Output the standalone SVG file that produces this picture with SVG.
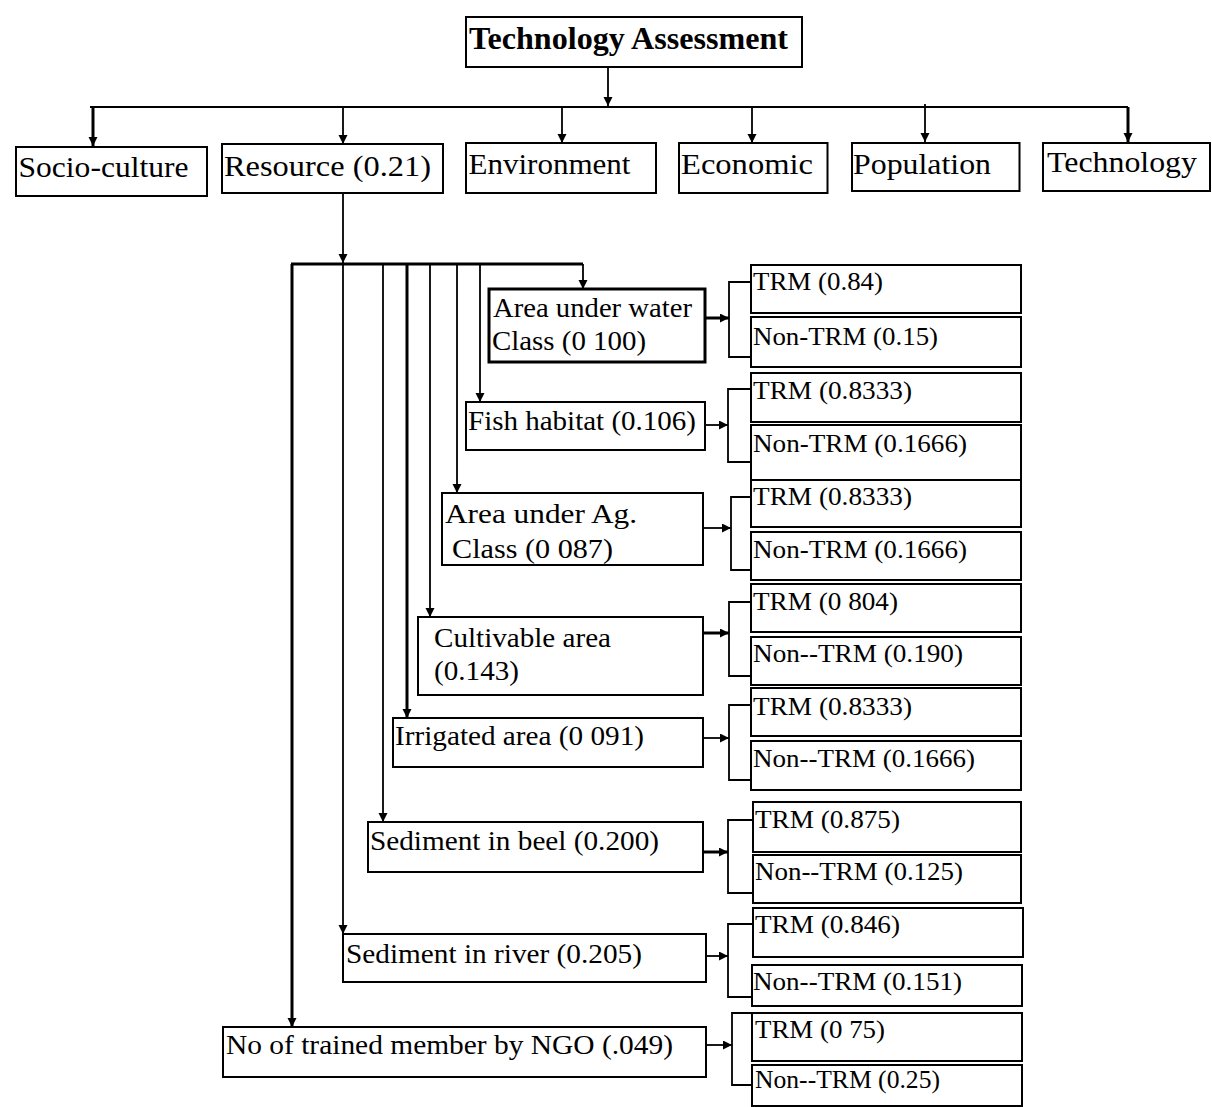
<svg xmlns="http://www.w3.org/2000/svg" width="1212" height="1107" viewBox="0 0 1212 1107">
<defs>
<marker id="ah" markerUnits="userSpaceOnUse" markerWidth="10" markerHeight="10" refX="9" refY="4.5" orient="auto"><path d="M0,0 L9,4.5 L0,9 z" fill="#000"/></marker>
<style>
rect{fill:#fff;stroke:#000;stroke-width:2}
.c path{fill:none;stroke:#000;stroke-width:1.8}
.c .a{marker-end:url(#ah)}
.c .k{stroke-width:3}
text{font-family:"Liberation Serif","Times New Roman",serif;fill:#000}
.t{font-size:32px;font-weight:bold}
.l1{font-size:29px}
.l2{font-size:27px}
.lf{font-size:26px}
</style>
</defs>
<rect x="0" y="0" width="1212" height="1107" style="fill:#fff;stroke:none"/>
<g class="c" id="connectors">
<path class="a" d="M608,67 V106"/>
<path d="M90,107 H1128"/>
<path class="a k" d="M93,107 V146"/>
<path class="a" d="M343,107 V144"/>
<path class="a" d="M562,107 V143"/>
<path class="a" d="M752,107 V143"/>
<path class="a" d="M925,104 V142"/>
<path class="a k" d="M1128,107 V142"/>
<path class="a" d="M343,193 V263"/>
<path class="k" d="M291,264 H583"/>
<path class="a" d="M583,264 V289"/>
<path class="a" d="M480,264 V402"/>
<path class="a" d="M457,264 V493"/>
<path class="a" d="M430,264 V617"/>
<path class="a k" d="M407,264 V718"/>
<path class="a" d="M383,264 V822"/>
<path class="a" d="M343,264 V934"/>
<path class="a k" d="M292,264 V1027"/>
<path class="a k" d="M705,318 H729"/>
<path class="a" d="M705,425 H728"/>
<path class="a" d="M703,528 H731"/>
<path class="a k" d="M703,633 H729"/>
<path class="a" d="M703,738 H729"/>
<path class="a k" d="M703,852 H728"/>
<path class="a" d="M706,956 H728"/>
<path class="a" d="M706,1045 H732"/>
<path d="M751,282 H729 V357 H751"/>
<path d="M751,389 H728 V462 H751"/>
<path d="M751,497 H731 V570 H751"/>
<path d="M751,602 H729 V676 H751"/>
<path d="M751,705 H729 V780 H751"/>
<path d="M753,820 H728 V893 H753"/>
<path d="M753,924 H728 V997 H753"/>
<path d="M753,1013 H732 V1085 H753"/>
</g>
<g id="n-title"><rect x="466" y="17" width="336" height="50"/><text class="t" x="469" y="49" textLength="319" lengthAdjust="spacingAndGlyphs">Technology Assessment</text></g>
<g id="n-socio"><rect x="16" y="147" width="191" height="49"/><text class="l1" x="18.5" y="177" textLength="170" lengthAdjust="spacingAndGlyphs">Socio-culture</text></g>
<g id="n-resource"><rect x="222" y="144" width="221" height="49"/><text class="l1" x="224" y="176" textLength="207" lengthAdjust="spacingAndGlyphs">Resource (0.21)</text></g>
<g id="n-environment"><rect x="466" y="143" width="190" height="50"/><text class="l1" x="468.5" y="174" textLength="162" lengthAdjust="spacingAndGlyphs">Environment</text></g>
<g id="n-economic"><rect x="679" y="143" width="148.5" height="50"/><text class="l1" x="681" y="174" textLength="132" lengthAdjust="spacingAndGlyphs">Economic</text></g>
<g id="n-population"><rect x="852" y="143" width="167.5" height="48"/><text class="l1" x="853" y="174" textLength="138" lengthAdjust="spacingAndGlyphs">Population</text></g>
<g id="n-technology"><rect x="1043" y="143" width="167" height="48"/><text class="l1" x="1047" y="172" textLength="150" lengthAdjust="spacingAndGlyphs">Technology</text></g>
<g id="n-water"><rect x="489" y="289" width="216" height="73" style="stroke-width:3"/><text class="l2" x="493" y="317" textLength="199" lengthAdjust="spacingAndGlyphs">Area under water</text><text class="l2" x="492" y="350" textLength="154" lengthAdjust="spacingAndGlyphs">Class (0 100)</text></g>
<g id="n-fish"><rect x="466" y="402" width="239" height="48"/><text class="l2" x="468" y="430" textLength="228" lengthAdjust="spacingAndGlyphs">Fish habitat (0.106)</text></g>
<g id="n-ag"><rect x="442" y="493" width="261" height="72"/><text class="l2" x="445" y="523" textLength="192" lengthAdjust="spacingAndGlyphs">Area under Ag.</text><text class="l2" x="452" y="558" textLength="161" lengthAdjust="spacingAndGlyphs">Class (0 087)</text></g>
<g id="n-cultivable"><rect x="418" y="617" width="285" height="78"/><text class="l2" x="434" y="647" textLength="177" lengthAdjust="spacingAndGlyphs">Cultivable area</text><text class="l2" x="434" y="680" textLength="85" lengthAdjust="spacingAndGlyphs">(0.143)</text></g>
<g id="n-irrigated"><rect x="393" y="718" width="310" height="49"/><text class="l2" x="395" y="745" textLength="249" lengthAdjust="spacingAndGlyphs">Irrigated area (0 091)</text></g>
<g id="n-beel"><rect x="368" y="822" width="335" height="50"/><text class="l2" x="370" y="850" textLength="289" lengthAdjust="spacingAndGlyphs">Sediment in beel (0.200)</text></g>
<g id="n-river"><rect x="343" y="934" width="363" height="48"/><text class="l2" x="346" y="963" textLength="296" lengthAdjust="spacingAndGlyphs">Sediment in river (0.205)</text></g>
<g id="n-ngo"><rect x="223" y="1027" width="483" height="50"/><text class="l2" x="226" y="1054" textLength="447" lengthAdjust="spacingAndGlyphs">No of trained member by NGO (.049)</text></g>
<g id="n-w-trm"><rect x="751" y="265" width="270" height="48"/><text class="lf" x="753" y="290" textLength="130" lengthAdjust="spacingAndGlyphs">TRM (0.84)</text></g>
<g id="n-w-non"><rect x="751" y="317" width="270" height="50"/><text class="lf" x="753" y="345" textLength="185" lengthAdjust="spacingAndGlyphs">Non-TRM (0.15)</text></g>
<g id="n-f-trm"><rect x="751" y="373" width="270" height="49"/><text class="lf" x="753" y="399" textLength="159" lengthAdjust="spacingAndGlyphs">TRM (0.8333)</text></g>
<g id="n-f-non"><rect x="751" y="425" width="270" height="55"/><text class="lf" x="753" y="452" textLength="214" lengthAdjust="spacingAndGlyphs">Non-TRM (0.1666)</text></g>
<g id="n-a-trm"><rect x="751" y="480" width="270" height="47"/><text class="lf" x="753" y="505" textLength="159" lengthAdjust="spacingAndGlyphs">TRM (0.8333)</text></g>
<g id="n-a-non"><rect x="751" y="532" width="270" height="48"/><text class="lf" x="753" y="558" textLength="214" lengthAdjust="spacingAndGlyphs">Non-TRM (0.1666)</text></g>
<g id="n-c-trm"><rect x="751" y="584" width="270" height="48"/><text class="lf" x="753" y="610" textLength="145" lengthAdjust="spacingAndGlyphs">TRM (0 804)</text></g>
<g id="n-c-non"><rect x="751" y="637" width="270" height="48"/><text class="lf" x="753" y="662" textLength="210" lengthAdjust="spacingAndGlyphs">Non--TRM (0.190)</text></g>
<g id="n-i-trm"><rect x="751" y="688" width="270" height="48"/><text class="lf" x="753" y="715" textLength="159" lengthAdjust="spacingAndGlyphs">TRM (0.8333)</text></g>
<g id="n-i-non"><rect x="751" y="741" width="270" height="49"/><text class="lf" x="753" y="767" textLength="222" lengthAdjust="spacingAndGlyphs">Non--TRM (0.1666)</text></g>
<g id="n-b-trm"><rect x="753" y="802" width="268" height="50"/><text class="lf" x="755" y="828" textLength="145" lengthAdjust="spacingAndGlyphs">TRM (0.875)</text></g>
<g id="n-b-non"><rect x="753" y="855" width="268" height="48"/><text class="lf" x="755" y="880" textLength="208" lengthAdjust="spacingAndGlyphs">Non--TRM (0.125)</text></g>
<g id="n-r-trm"><rect x="753" y="908" width="270" height="49"/><text class="lf" x="755" y="933" textLength="145" lengthAdjust="spacingAndGlyphs">TRM (0.846)</text></g>
<g id="n-r-non"><rect x="752" y="965" width="270" height="41"/><text class="lf" x="753" y="990" textLength="209" lengthAdjust="spacingAndGlyphs">Non--TRM (0.151)</text></g>
<g id="n-n-trm"><rect x="752" y="1013" width="270" height="48"/><text class="lf" x="755" y="1038" textLength="130" lengthAdjust="spacingAndGlyphs">TRM (0 75)</text></g>
<g id="n-n-non"><rect x="752" y="1065" width="270" height="41"/><text class="lf" x="755" y="1088" textLength="185" lengthAdjust="spacingAndGlyphs">Non--TRM (0.25)</text></g>
</svg>
